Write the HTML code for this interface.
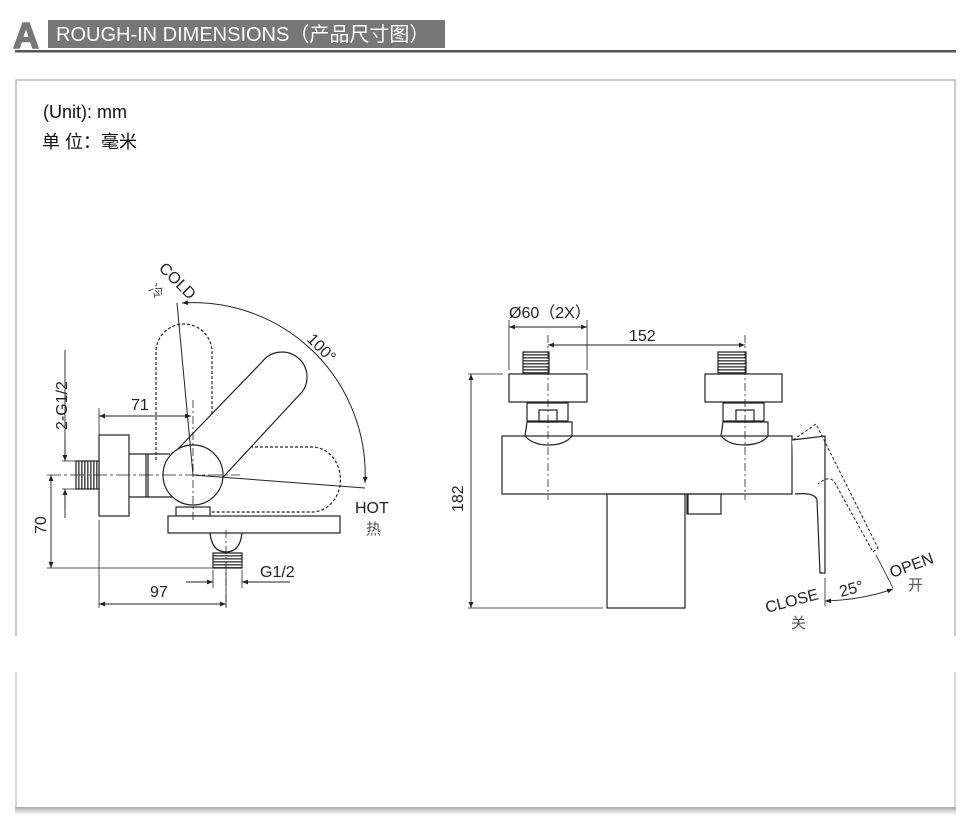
<!DOCTYPE html>
<html><head><meta charset="utf-8"><style>
html,body{margin:0;padding:0;background:#fff;}
body{width:973px;height:831px;position:relative;overflow:hidden;font-family:"Liberation Sans","Noto Sans CJK SC",sans-serif;}
</style></head><body>
<svg width="973" height="831" viewBox="0 0 973 831" xmlns="http://www.w3.org/2000/svg" style="position:absolute;left:0;top:0">
<defs>
<marker id="ar" viewBox="0 0 10 10" refX="10" refY="5" markerWidth="9" markerHeight="6" orient="auto-start-reverse" markerUnits="userSpaceOnUse"><path d="M0,1 L10,5 L0,9 z" fill="#222"/></marker>
<linearGradient id="sh" x1="0" y1="0" x2="0" y2="1"><stop offset="0" stop-color="#aaa"/><stop offset="1" stop-color="#fff"/></linearGradient>
<pattern id="thr" width="3" height="3" patternUnits="userSpaceOnUse"><rect width="3" height="3" fill="#fff"/><rect width="3" height="1.6" fill="#555"/></pattern>
<pattern id="thv" width="3" height="3" patternUnits="userSpaceOnUse"><rect width="3" height="3" fill="#fff"/><rect width="1.6" height="3" fill="#555"/></pattern>
</defs>
<!-- header -->
<text x="13" y="48" font-size="36" font-weight="900" fill="#777" font-family="Liberation Sans,sans-serif" stroke="#777" stroke-width="1.5">A</text>
<rect x="48" y="20" width="397" height="28" fill="#777"/>
<text x="56" y="41" font-size="20" fill="#fff">ROUGH-IN  DIMENSIONS（产品尺寸图）</text>
<rect x="15" y="50" width="941" height="2.5" fill="#555"/>
<!-- frame -->
<path d="M16,636 V80 H955 V636" fill="none" stroke="#bbb" stroke-width="1.5"/>
<path d="M16,672 V810 M955,672 V810" fill="none" stroke="#ccc" stroke-width="1.5"/>
<rect x="15" y="807" width="941" height="8" fill="url(#sh)"/>
<text x="43" y="118" font-size="18" fill="#111">(Unit): mm</text>
<text x="42" y="148" font-size="18" fill="#111">单 位：毫米</text>

<g fill="none" stroke="#222" stroke-width="1.2">
<!-- LEFT VIEW -->
<rect x="99" y="435" width="30" height="81" fill="#fff"/>
<rect x="76" y="461" width="23" height="28" fill="url(#thv)"/>
<path d="M129,454 H148 V497 H129"/>
<path d="M146,454 V497"/>
<path d="M148,454 H170 M148,497 H172"/>
<g stroke-dasharray="3,2">
<path d="M156,460 V352 A28,28 0 0 1 212,352 V450"/>
<path d="M200,447 H312 A28,32 0 0 1 312,512 H210"/>
</g>
<path d="M175,452 L262,362 A19,19 0 0 1 302,392 L213,488" fill="#fff"/>
<circle cx="193" cy="475" r="30" fill="#fff"/>
<rect x="176" y="507" width="34" height="9"/>
<rect x="168" y="516" width="172" height="17" fill="#fff"/>
<path d="M210,533 Q212,552 226,552 Q240,552 242,533"/>
<rect x="213" y="553" width="29" height="15" fill="url(#thr)"/>
<!-- lines -->
<path d="M177,303 L193,475 L365,488" stroke-width="1"/>
<path d="M182,303 A172,172 0 0 1 365,483" marker-start="url(#ar)" marker-end="url(#ar)" stroke-width="1"/>
<path d="M47,475 H240" stroke-dasharray="14,3,3,3" stroke-width="0.8"/>
<path d="M193,400 V520 M226,530 V610" stroke-dasharray="8,3,2,3" stroke-width="0.8"/>
<path d="M99,435 V408 M99,520 V608 M226,570 V608" stroke-width="0.8"/>
<path d="M99,416 H191" marker-start="url(#ar)" marker-end="url(#ar)" stroke-width="0.9"/>
<path d="M65,350 V461 M65,489 V518" stroke-width="0.9"/>
<path d="M65,440 V461" marker-end="url(#ar)" stroke-width="0.9"/>
<path d="M65,510 V489" marker-end="url(#ar)" stroke-width="0.9"/>
<path d="M62,461 H76 M62,489 H76" stroke-width="0.8"/>
<path d="M51,475 V568" marker-start="url(#ar)" marker-end="url(#ar)" stroke-width="0.9"/>
<path d="M47,568 H213" stroke-width="0.8"/>
<path d="M186,582 H213" marker-end="url(#ar)" stroke-width="0.9"/>
<path d="M290,582 H242" marker-end="url(#ar)" stroke-width="0.9"/>
<path d="M213,570 V588 M242,570 V588" stroke-width="0.8"/>
<path d="M99,604 H226" marker-start="url(#ar)" marker-end="url(#ar)" stroke-width="0.9"/>

<!-- RIGHT VIEW -->
<rect x="523" y="352" width="26" height="22" fill="url(#thr)"/>
<rect x="718" y="352" width="28" height="22" fill="url(#thr)"/>
<rect x="509" y="374" width="78" height="28" fill="#fff"/>
<rect x="705" y="374" width="77" height="28" fill="#fff"/>
<rect x="527" y="403" width="41" height="18"/>
<rect x="539" y="410" width="18" height="12"/>
<rect x="723" y="403" width="41" height="18"/>
<rect x="736" y="410" width="18" height="12"/>
<path d="M527,422 H572 V436 Q565,445 548,445 Q533,445 525,436 Z"/>
<path d="M723,422 H768 V436 Q761,445 744,445 Q729,445 721,436 Z"/>
<rect x="502" y="436" width="290" height="58"/>
<rect x="607" y="494" width="78" height="114"/>
<rect x="687" y="494" width="34" height="20"/>
<path d="M688,494 V514"/>
<path d="M792,440 L825,436 V573 H820 L817,500 Q815,492 795,494" fill="#fff"/>
<path d="M793,440 L816,424 L878,548 L873,552 L835,483 Q830,474 818,484" stroke-dasharray="3,2" stroke-width="1"/>
<path d="M548,335 V500 M745,335 V500" stroke-dasharray="8,3,2,3" stroke-width="0.8"/>
<path d="M509,320 V370 M587,320 V370" stroke-width="0.8"/>
<path d="M509,327 H587" marker-start="url(#ar)" marker-end="url(#ar)" stroke-width="0.9"/>
<path d="M548,345 H745" marker-start="url(#ar)" marker-end="url(#ar)" stroke-width="0.9"/>
<path d="M468,374 H503 M468,608 H603" stroke-width="0.8"/>
<path d="M471,374 V608" marker-start="url(#ar)" marker-end="url(#ar)" stroke-width="0.9"/>
<path d="M825,578 V606 M876,555 L893,588" stroke-width="0.8"/>
<path d="M825,601 Q862,600 893,589" marker-start="url(#ar)" marker-end="url(#ar)" stroke-width="0.9"/>
</g>

<g font-size="16" fill="#222">
<text x="131" y="410">71</text>
<text x="150" y="597">97</text>
<text x="260" y="577">G1/2</text>
<text x="355" y="513">HOT</text>
<text x="366" y="534" font-size="15" fill="#555">热</text>
<text transform="translate(67,430) rotate(-90)">2-G1/2</text>
<text transform="translate(46,534) rotate(-90)">70</text>
<text transform="translate(158,269) rotate(45)">COLD</text>
<text transform="translate(148,290) rotate(45)" font-size="14" fill="#555">冷</text>
<text transform="translate(306,340) rotate(45)">100°</text>
<text x="509" y="318">Ø60（2X）</text>
<text x="629" y="341">152</text>
<text transform="translate(463,512) rotate(-90)">182</text>
<text transform="translate(767,613) rotate(-15)">CLOSE</text>
<text x="791" y="628" font-size="15" fill="#555">关</text>
<text transform="translate(841,597) rotate(-15)">25°</text>
<text transform="translate(892,578) rotate(-20)">OPEN</text>
<text x="908" y="590" font-size="15" fill="#555">开</text>
</g>
</svg>
</body></html>
